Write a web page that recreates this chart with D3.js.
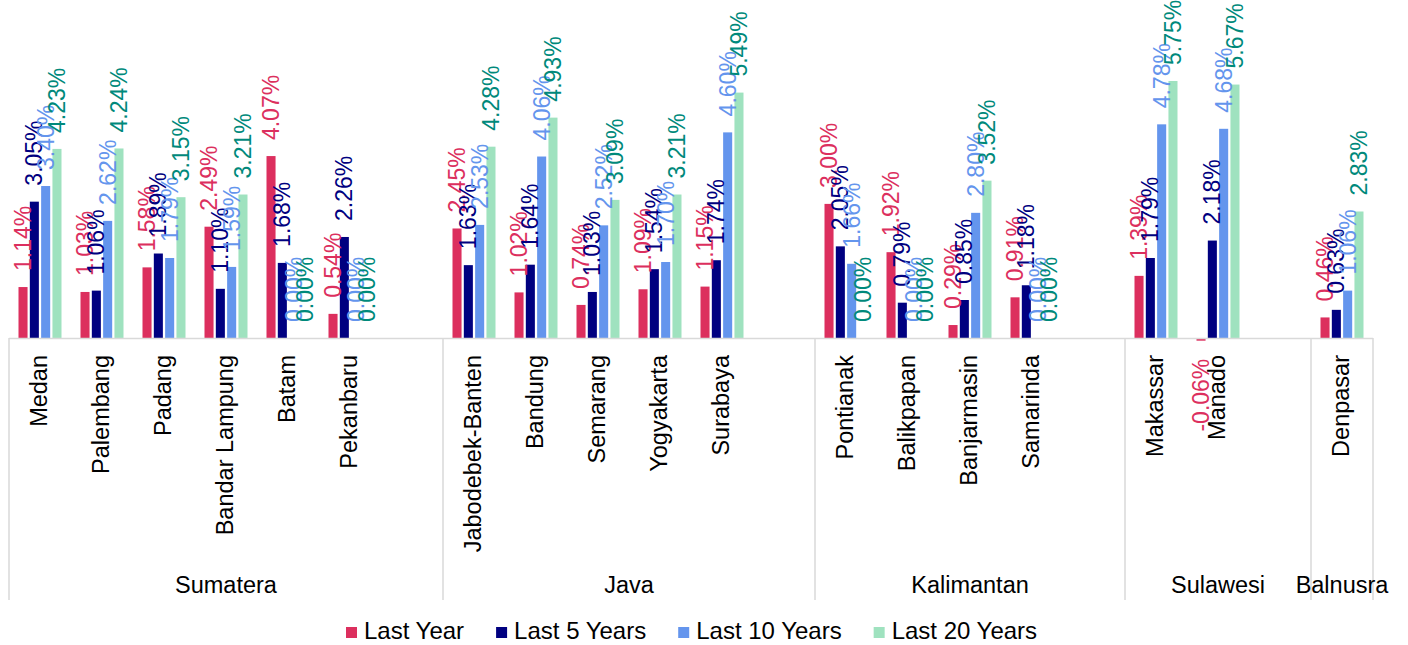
<!DOCTYPE html>
<html>
<head>
<meta charset="utf-8">
<script src="https://cdn.jsdelivr.net/npm/d3@7"></script>
<style>
  html, body { margin: 0; padding: 0; background: #ffffff; }
  svg { display: block; font-family: "Liberation Sans", Arial, sans-serif; }
</style>
</head>
<body>
<svg id="chart" width="1408" height="645"></svg>
<script>
// ---- Data ----
const categories = ["Medan", "Palembang", "Padang", "Bandar Lampung", "Batam", "Pekanbaru", "",
  "Jabodebek-Banten", "Bandung", "Semarang", "Yogyakarta", "Surabaya", "",
  "Pontianak", "Balikpapan", "Banjarmasin", "Samarinda", "",
  "Makassar", "Manado", "",
  "Denpasar"];
const groupNames = ["Sumatera", "Java", "Kalimantan", "Sulawesi", "Balnusra"];
const groupSizes = [7, 6, 5, 3, 1];
const seriesNames = ["Last Year", "Last 5 Years", "Last 10 Years", "Last 20 Years"];
const lastYear   = [1.14, 1.03, 1.58, 2.49, 4.07, 0.54, null, 2.45, 1.02, 0.74, 1.09, 1.15, null, 3.00, 1.92, 0.29, 0.91, null, 1.39, -0.06, null, 0.46];
const last5Years = [3.05, 1.06, 1.89, 1.10, 1.68, 2.26, null, 1.63, 1.64, 1.03, 1.54, 1.74, null, 2.05, 0.79, 0.85, 1.18, null, 1.79, 2.18, null, 0.63];
const last10Years= [3.40, 2.62, 1.79, 1.59, 0.00, 0.00, null, 2.53, 4.06, 2.52, 1.70, 4.60, null, 1.66, 0.00, 2.80, 0.00, null, 4.78, 4.68, null, 1.06];
const last20Years= [4.23, 4.24, 3.15, 3.21, 0.00, 0.00, null, 4.28, 4.93, 3.09, 3.21, 5.49, null, 0.00, 0.00, 3.52, 0.00, null, 5.75, 5.67, null, 2.83];
const seriesValues = [lastYear, last5Years, last10Years, last20Years];

// ---- Styles ----
const barColors   = ["#DC2F5E", "#000080", "#6495ED", "#9FE2BF"];
const labelColors = ["#DC2F5E", "#000080", "#6495ED", "#00897B"];
const FONT = 23.5;
const LABEL_FONT = 23;
const LEGEND_FONT = 24;

const svg = d3.select("#chart");
const left = 9, right = 1373, baseY = 338, pxPerUnit = 44.7;

const x = d3.scaleBand().domain(d3.range(categories.length)).range([left, right]);
const xs = d3.scaleBand().domain(d3.range(seriesNames.length)).range([9.5, x.bandwidth() - 9.5]).paddingInner(0.2);
const y = d3.scaleLinear().domain([0, 6]).range([baseY, baseY - 6 * pxPerUnit]);

// Bars
seriesValues.forEach((vals, si) => {
  const data = vals.map((v, i) => ({ v, i })).filter(d => d.v !== null);
  svg.append("g").selectAll("rect").data(data).join("rect")
    .attr("x", d => x(d.i) + xs(si))
    .attr("width", xs.bandwidth())
    .attr("y", d => Math.min(y(d.v), y(0)))
    .attr("height", d => Math.abs(y(d.v) - y(0)))
    .attr("fill", barColors[si]);
});

// Axis line and group dividers
const axisColor = "#d9d9d9";
svg.append("line").attr("x1", left).attr("x2", right).attr("y1", baseY + 0.5).attr("y2", baseY + 0.5)
  .attr("stroke", axisColor).attr("stroke-width", 1.5);
let acc = 0;
const bounds = [0];
groupSizes.forEach(s => { acc += s; bounds.push(acc); });
bounds.forEach(b => {
  const bx = b < categories.length ? x(b) : right;
  svg.append("line").attr("x1", bx).attr("x2", bx).attr("y1", baseY).attr("y2", 600)
    .attr("stroke", axisColor).attr("stroke-width", 1.5);
});

// Category labels
svg.append("g").selectAll("text").data(categories.map((c, i) => ({ c, i })).filter(d => d.c !== "")).join("text")
  .attr("transform", d => `translate(${x(d.i) + x.bandwidth() / 2 - 1},355) rotate(-90)`)
  .attr("text-anchor", "end")
  .attr("dominant-baseline", "central")
  .attr("font-size", FONT)
  .attr("fill", "#000")
  .text(d => d.c);

// Group labels
groupNames.forEach((g, gi) => {
  const x0 = x(bounds[gi]);
  const x1 = bounds[gi + 1] < categories.length ? x(bounds[gi + 1]) : right;
  svg.append("text")
    .attr("x", (x0 + x1) / 2).attr("y", 593)
    .attr("text-anchor", "middle")
    .attr("font-size", FONT)
    .attr("fill", "#000")
    .text(g);
});

// Data labels
const fmt = v => v.toFixed(2) + "%";
seriesValues.forEach((vals, si) => {
  const data = vals.map((v, i) => ({ v, i })).filter(d => d.v !== null);
  svg.append("g").selectAll("text").data(data).join("text")
    .attr("transform", d => {
      const cx = x(d.i) + xs(si) + xs.bandwidth() / 2;
      const cy = d.v >= 0 ? y(d.v) - 16 : y(d.v) + 18;
      return `translate(${cx},${cy}) rotate(-90)`;
    })
    .attr("text-anchor", d => d.v >= 0 ? "start" : "end")
    .attr("dominant-baseline", "central")
    .attr("font-size", LABEL_FONT)
    .attr("fill", labelColors[si])
    .text(d => fmt(d.v));
});

// Legend
const legend = svg.append("g");
let lx = 346;
seriesNames.forEach((name, si) => {
  legend.append("rect").attr("x", lx).attr("y", 627).attr("width", 11).attr("height", 11).attr("fill", barColors[si]);
  const t = legend.append("text").attr("x", lx + 18).attr("y", 639)
    .attr("font-size", LEGEND_FONT).attr("fill", "#000").text(name);
  lx = lx + 18 + t.node().getComputedTextLength() + 32;
});
</script>
</body>
</html>
